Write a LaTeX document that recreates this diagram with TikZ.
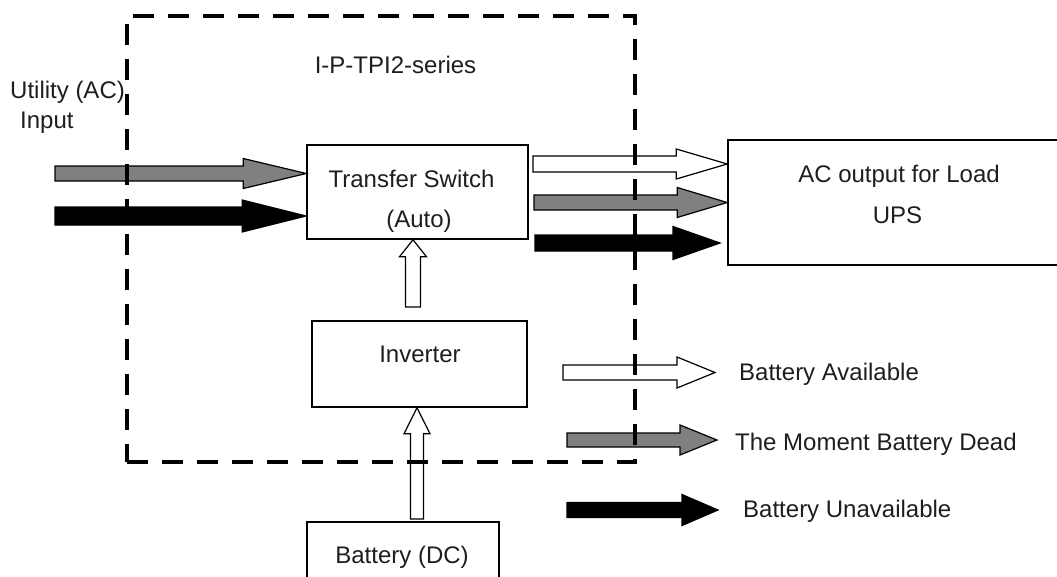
\documentclass[tikz,border=0pt]{standalone}
\usepackage{fontspec}
\setmainfont{Liberation Sans}
\usepackage{tikz}
\usetikzlibrary{positioning,calc}
\definecolor{arrgray}{RGB}{128,128,128}
\definecolor{inkgray}{RGB}{30,30,30}
\tikzset{
  box/.style    ={draw=black, line width=1.5pt, fill=white, inner sep=0pt},
  sysframe/.style={draw=black, line width=4pt, dash pattern=on 21pt off 14pt, inner sep=0pt},
  txt/.style    ={text=inkgray, inner sep=0pt},
  fatline/.style={draw=black, line width=1.2pt, line join=miter},
}
% block arrow: fill, from, to, shaft half width, head half width, head length
\newcommand{\fatarrow}[6]{%
  \coordinate (fah) at ($(#3)!#6!(#2)$);
  \filldraw[fatline,fill=#1]
    ($(#2)!#4!90:(#3)$) -- ($(fah)!#4!-90:(#2)$) -- ($(fah)!#5!-90:(#2)$) --
    (#3) -- ($(fah)!#5!90:(#2)$) -- ($(fah)!#4!90:(#2)$) --
    ($(#2)!#4!-90:(#3)$) -- cycle;
}

\begin{document}
\begin{tikzpicture}[x=1pt,y=-1pt,font=\fontsize{24}{28}\selectfont]
\useasboundingbox[fill=white] (0,0) rectangle (1057,576);
% blocks
\node[box,minimum width=221pt,minimum height=94pt] (ts) at (417.5,192) {};
\node[box,minimum width=215pt,minimum height=86pt] (inv) at (419.5,364) {};
\node[box,minimum width=192pt,minimum height=80pt] (bat) at (403,562) {};
\node[box,minimum width=342pt,minimum height=125pt] (ac) at (899,202.5) {};
% texts
\node[txt,anchor=base] (title) at (395.5,73) {I-P-TPI2-series};
\node[txt,anchor=base west] (util) at (10,98) {Utility (AC)};
\node[txt,anchor=base west] (input) at (20,128) {Input};
\node[txt,anchor=base] (tsa) at (411.5,187) {Transfer Switch};
\node[txt,anchor=base] (tsb) at (419,227) {(Auto)};
\node[txt,anchor=base] (invl) at (420,362) {Inverter};
\node[txt,anchor=base] (batl) at (402,563) {Battery (DC)};
\node[txt,anchor=base] (aca) at (899,182) {AC output for Load};
\node[txt,anchor=base] (acb) at (897.5,223) {UPS};
\node[txt,anchor=base west] (lga) at (739,380) {Battery Available};
\node[txt,anchor=base west] (lgb) at (735,450) {The Moment Battery Dead};
\node[txt,anchor=base west] (lgc) at (743,517) {Battery Unavailable};
% input arrows
\coordinate (ingray) at (55,173.5);
\coordinate (inblack) at (55,216);
\fatarrow{arrgray}{ingray}{ingray -| ts.west}{7.5pt}{15pt}{63pt}
\fatarrow{black}{inblack}{inblack -| ts.west}{9pt}{16pt}{64pt}
% output arrows
\coordinate (outwhite) at (533,164);
\coordinate (outgray) at (534,202.5);
\coordinate (outblack) at (535,243);
\coordinate (outblackend) at (720,243);
\fatarrow{white}{outwhite}{outwhite -| ac.west}{8pt}{15pt}{51pt}
\fatarrow{arrgray}{outgray}{outgray -| ac.west}{7.5pt}{15pt}{50pt}
\fatarrow{black}{outblack}{outblackend}{8pt}{16.5pt}{47pt}
% inner arrows
\coordinate (invtop) at (413,307);
\coordinate (battop) at (417,519);
\fatarrow{white}{invtop}{invtop |- ts.south}{7.5pt}{13.5pt}{17pt}
\fatarrow{white}{battop}{battop |- inv.south}{6.5pt}{13pt}{26pt}
% legend
\coordinate (lgaw) at (563,372.5);
\coordinate (lgae) at (715,372.5);
\coordinate (lgbw) at (567,440);
\coordinate (lgbe) at (717,440);
\coordinate (lgcw) at (567,510);
\coordinate (lgce) at (718,510);
\fatarrow{white}{lgaw}{lgae}{7.5pt}{15.5pt}{38pt}
\fatarrow{arrgray}{lgbw}{lgbe}{7pt}{15pt}{37pt}
\fatarrow{black}{lgcw}{lgce}{7.5pt}{15.5pt}{36pt}
% system frame
\node[sysframe,minimum width=508pt,minimum height=446pt] (sys) at (381,239) {};
\end{tikzpicture}
\end{document}
